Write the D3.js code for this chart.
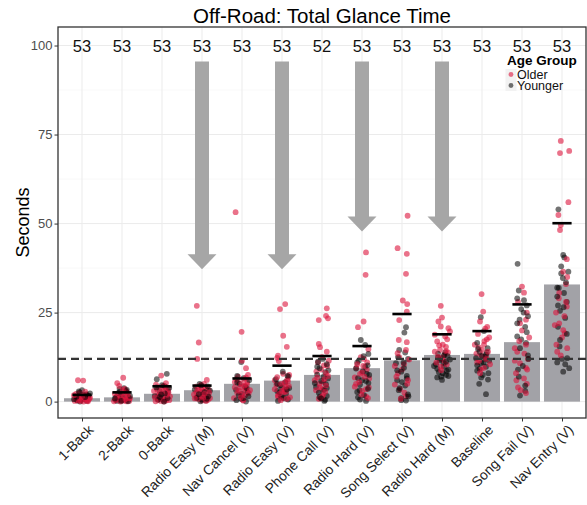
<!DOCTYPE html>
<html><head><meta charset="utf-8">
<script src="https://cdn.jsdelivr.net/npm/d3@7/dist/d3.min.js"></script>
<style>body{margin:0;background:#fff;}svg{font-family:"Liberation Sans",Arial,sans-serif;}</style>
</head><body>
<script>
const categories = ["1-Back","2-Back","0-Back","Radio Easy (M)","Nav Cancel (V)","Radio Easy (V)","Phone Call (V)","Radio Hard (V)","Song Select (V)","Radio Hard (M)","Baseline","Song Fail (V)","Nav Entry (V)"];
const medians = [0.95,1.2,2.2,3.2,5.0,5.9,7.5,9.4,11.6,13.1,13.4,16.7,32.9];
const means = [1.9,2.6,4.3,4.5,6.5,10.1,12.8,15.6,24.6,18.9,19.8,27.3,50.1];
const counts = ["53","53","53","53","53","53","52","53","53","53","53","53","53"];
const yTicks = [0,25,50,75,100];
const threshold = 12;
const arrowCats = ["Radio Easy (M)","Radio Easy (V)","Radio Hard (V)","Radio Hard (M)"];
const arrowTips = [37.2,37.2,47.8,47.8];
const arrowStart = 95.5;
const groups = ["Older","Younger"];
// points per category: [jitter offset (in category steps), seconds]
const olderPts = [
 [[-0.1,6.0],[0.03,5.9],[-0.15,2.2],[0.12,1.5],[-0.05,1.0],[0.1,0.5],[-0.18,0.2],[0.18,0.8],[0.05,1.2],[-0.08,0.3],[0.08,2.8],[0,0.6],[-0.2,1.8],[0.15,0.1],[-0.12,0.4],[0.2,1.1],
  [-0.03,0.2],[0.07,0.9],[-0.13,1.3],[0.14,0.3],[0.01,1.6],[-0.09,0.7],[0.11,2.0],[-0.17,1.0],[0.04,0.0],[-0.01,1.2],[0.16,1.4],[-0.06,2.4]],
 [[0.03,6.7],[-0.12,5.2],[-0.07,4.4],[0.1,3.0],[-0.18,2.2],[0.15,1.5],[-0.1,0.8],[0.05,0.3],[-0.2,0.1],[0.2,1.0],[0,0.5],[0.12,2.6],[-0.03,1.8],[0.18,0.2],[-0.15,0.6],[0.07,3.6],
  [0.0,0.3],[-0.08,1.2],[0.09,0.7],[-0.13,1.5],[0.14,2.0],[-0.04,0.0],[0.05,1.4],[-0.16,0.4],[0.11,0.1],[-0.01,2.2],[0.17,0.9],[0.02,3.2]],
 [[-0.02,7.3],[0.1,5.2],[-0.15,4.8],[0.05,4.5],[-0.08,4.0],[0.15,3.5],[-0.2,3.0],[0,2.6],[0.12,2.2],[-0.1,1.8],[0.08,1.2],[-0.05,0.8],[0.18,0.4],[-0.16,0.1],[0.2,1.5],[0.03,2.9],[0.1,0.3],
  [0.0,1.0],[-0.06,2.0],[0.06,0.5],[-0.12,3.3],[0.13,1.9],[-0.03,0.2],[0.09,3.8],[-0.18,1.2],[0.16,2.6],[0.02,4.2],[-0.1,0.6],[0.05,0.0]],
 [[-0.13,26.9],[-0.08,16.6],[-0.12,12.0],[0.12,6.1],[0.05,5.0],[-0.15,4.2],[0.1,3.6],[-0.05,3.0],[0.18,2.5],[-0.2,2.0],[0,1.6],[0.08,1.2],[-0.1,0.8],[0.15,0.5],[0.02,2.8],[-0.02,3.9],[0.2,1.0],
  [0.0,0.3],[-0.07,1.4],[0.06,2.2],[-0.14,2.6],[0.13,1.8],[-0.03,4.6],[0.1,0.2],[-0.18,0.9],[0.17,3.3],[0.03,1.1],[-0.1,3.4],[0.07,4.0]],
 [[-0.16,53.2],[-0.01,19.6],[0,11.5],[0.1,9.4],[0.15,7.5],[-0.1,7.0],[0.05,6.2],[-0.18,5.5],[0.12,4.8],[-0.05,4.0],[0.2,3.2],[-0.12,2.5],[0.08,1.8],[-0.2,1.0],[0.02,0.5],[0.1,3.6],[-0.02,5.0],
  [0.0,2.0],[-0.07,3.0],[0.06,4.5],[-0.14,6.3],[0.13,5.5],[-0.03,1.2],[0.1,6.8],[-0.18,4.0],[0.17,2.4],[0.03,0.3],[-0.1,5.7],[0.07,3.3]],
 [[0.08,27.4],[-0.05,26.0],[0.03,18.5],[0.12,15.4],[-0.1,12.9],[-0.12,12.3],[-0.08,11.4],[-0.12,6.9],[0.15,5.8],[-0.02,5.0],[0.1,4.2],[-0.18,3.5],[0.05,2.6],[-0.1,1.8],[0.2,1.2],[0,3.0],[0.12,0.8],[0.18,7.5],
  [0.0,1.0],[-0.07,2.2],[0.06,3.5],[-0.14,4.8],[0.13,6.2],[-0.03,0.4],[0.1,2.8],[-0.18,6.0],[0.17,4.4],[0.03,7.8],[-0.1,1.4],[0.07,5.3]],
 [[0.12,26.2],[0.1,24.1],[0.15,23.4],[-0.08,22.9],[-0.08,16.2],[-0.05,15.3],[0.12,14.0],[0,12.5],[-0.1,11.0],[0.05,10.2],[-0.02,9.0],[0.1,8.0],[-0.12,6.8],[0.03,5.5],[-0.05,4.0],[0.08,2.8],[0,1.5],[-0.08,0.8],[0.15,7.2],[-0.15,3.2],
  [0.0,3.5],[-0.07,5.0],[0.06,6.3],[-0.14,8.5],[0.13,10.0],[-0.03,1.0],[0.1,4.5],[-0.18,6.0],[0.17,11.5],[0.03,2.0]],
 [[0.1,41.9],[0.09,35.6],[0.04,22.5],[-0.1,20.9],[0.16,14.7],[0.05,12.0],[-0.12,10.5],[0.12,9.0],[-0.05,7.8],[0.18,6.5],[-0.15,5.0],[0.1,3.5],[-0.02,2.0],[0.15,1.0],[0,8.2],[-0.18,4.2],
  [0.0,3.0],[-0.07,5.5],[0.06,7.0],[-0.14,9.5],[0.13,11.0],[-0.03,12.5],[0.1,1.5],[-0.18,6.8],[0.17,4.0],[0.03,10.0]],
 [[0.14,52.2],[-0.11,43.1],[0.12,41.5],[0.1,35.9],[0.02,28.4],[0.13,27.4],[0.12,25.3],[-0.07,22.9],[-0.08,17.3],[0.12,16.7],[-0.11,13.6],[0.05,10.5],[-0.1,8.0],[0.15,6.0],[-0.05,3.5],[0.1,1.5],[0.18,11.8],[-0.18,4.8],
  [0.0,9.0],[-0.07,12.5],[0.06,2.5],[-0.14,7.0],[0.13,5.0],[-0.03,0.8],[0.1,14.5],[-0.18,10.0]],
 [[-0.03,26.9],[0,23.6],[-0.09,22.5],[-0.03,21.1],[0.16,20.6],[0.2,19.7],[0.08,18.3],[-0.12,16.9],[0.1,15.4],[-0.05,14.5],[0.15,13.8],[-0.1,12.6],[0.05,11.5],[0.12,10.4],[-0.02,8.8],[-0.18,14.0],[0.02,16.0],
  [0.0,12.2],[-0.07,15.8],[0.06,13.2],[-0.14,11.0],[0.13,17.5],[-0.03,9.8],[0.1,14.2],[-0.18,18.8]],
 [[-0.01,30.2],[0.03,25.3],[-0.05,22.5],[0.08,20.5],[-0.1,19.0],[0.12,17.5],[0.05,16.0],[-0.08,15.2],[0.15,14.0],[-0.02,13.0],[0.1,12.0],[-0.12,11.0],[0.05,9.5],[-0.05,8.0],[0.18,18.0],[0.2,10.5],
  [0.0,14.5],[-0.07,11.5],[0.06,17.0],[-0.14,13.5],[0.13,21.0],[-0.03,9.0],[0.1,12.6],[-0.18,16.0]],
 [[0,32.3],[0.05,30.6],[-0.1,28.0],[0.12,25.0],[-0.05,22.0],[0.1,16.0],[-0.12,14.0],[0.15,12.0],[-0.05,10.8],[0.1,9.5],[-0.15,8.0],[0.05,6.5],[0.12,5.0],[-0.1,4.0],[0.1,2.4],[0.18,18.0],[-0.18,11.5],
  [0.0,20.0],[-0.07,17.0],[0.06,13.5],[-0.14,6.0],[0.13,9.0],[-0.03,3.2],[0.1,23.0],[-0.18,15.0]],
 [[-0.03,73.2],[-0.05,69.8],[0.18,70.4],[0.16,56.0],[-0.09,52.4],[-0.03,49.6],[-0.05,48.2],[0.03,36.5],[0.1,33.0],[-0.08,29.0],[0.12,26.7],[-0.07,22.0],[0.03,20.1],[0.07,19.2],[0.13,15.0],[-0.12,14.0],[-0.15,25.0],[0.12,40.0],
  [0.0,18.0],[-0.07,30.5],[0.06,24.0],[-0.14,16.0],[0.13,35.0],[-0.03,13.0],[0.1,28.0],[-0.18,21.5]]
];
const youngerPts = [
 [[0,3.2],[-0.06,2.6],[0.1,2.0],[-0.14,1.4],[0.06,0.9],[-0.02,0.5],[0.12,0.2],[0.16,1.7],[-0.2,0.7],[-0.05,0.0],[0.2,2.3],[-0.1,1.0],
  [0.08,1.3],[-0.12,0.3],[0.03,1.9],[-0.08,2.9]],
 [[0.05,3.8],[0.12,3.3],[-0.05,2.8],[0.08,2.0],[-0.15,1.2],[0.1,0.6],[-0.02,0.2],[0.2,1.6],[-0.18,0.9],[0.15,0.1],[-0.1,2.4],
  [-0.06,3.6],[0.1,2.9],[0.0,1.3],[-0.12,0.2]],
 [[0.12,7.8],[-0.13,6.3],[0,4.6],[0.18,3.8],[-0.06,3.0],[0.07,2.3],[-0.18,1.6],[0.14,1.0],[-0.1,0.5],[0.05,0.0],[-0.02,2.0],
  [0.08,4.2],[-0.05,1.3],[0.15,2.8],[-0.14,4.0]],
 [[-0.06,5.0],[0.14,4.3],[-0.18,3.4],[0.06,2.7],[-0.08,2.1],[0.16,1.5],[-0.14,1.0],[0,0.6],[0.1,0.3],[-0.04,0.1],[0.2,3.1],
  [0.04,2.0],[-0.12,1.2],[0.12,0.8],[-0.02,4.6]],
 [[-0.02,11.1],[-0.12,7.2],[0.18,6.0],[-0.06,5.0],[0.08,4.2],[-0.15,3.3],[0.14,2.6],[-0.08,1.8],[0.04,1.0],[-0.14,0.4],[0.1,0.0],[0,2.2],
  [0.04,6.6],[-0.12,5.4],[0.12,3.8],[-0.02,0.8],[0.16,1.5]],
 [[0.02,8.4],[0.14,7.2],[-0.15,6.3],[0.08,5.5],[-0.05,4.6],[0.18,3.8],[-0.12,3.0],[0.1,2.2],[-0.02,1.5],[0.15,0.6],[-0.1,0.2],[0,4.0],
  [0.04,1.0],[-0.12,5.0],[0.12,3.4],[-0.06,2.6],[0.16,7.0]],
 [[0.02,12.0],[0.12,10.5],[-0.06,9.4],[0.08,8.3],[-0.12,7.6],[0.15,6.5],[-0.02,5.8],[0.1,4.9],[-0.15,4.1],[0.05,3.3],[-0.08,2.5],[0.12,1.6],[-0.02,0.9],[0.06,0.2],[-0.18,5.2],
  [0.04,7.0],[-0.12,9.8],[0.12,3.8],[-0.06,1.3],[0.16,8.8],[-0.1,11.2],[0.08,0.5]],
 [[-0.03,17.3],[0.08,15.9],[0.16,13.4],[-0.08,11.5],[0.14,10.2],[-0.15,9.3],[0.02,8.5],[0.18,7.5],[-0.1,6.6],[0.1,5.8],[-0.05,4.8],[0.15,3.6],[-0.12,2.7],[0.05,1.8],[-0.05,0.6],[0.1,0.2],[0,6.0],
  [0.04,12.8],[-0.12,11.0],[0.12,7.8],[-0.06,3.2],[0.16,5.2],[-0.1,1.2],[0.08,9.8]],
 [[0.1,20.9],[0.06,19.4],[-0.07,14.5],[0.15,12.0],[-0.15,10.8],[0.05,9.5],[-0.02,8.4],[0.12,7.2],[-0.12,6.0],[0.08,4.5],[-0.08,3.2],[0.15,2.0],[-0.02,1.0],[0.1,0.3],[0,5.5],
  [0.04,11.0],[-0.12,8.8],[0.12,6.5],[-0.06,3.8],[0.16,1.5],[-0.1,12.5],[0.08,13.8],[-0.02,0.4]],
 [[-0.1,13.5],[0.14,12.8],[-0.05,12.0],[0.1,11.2],[-0.15,10.5],[0.05,9.8],[0.16,9.0],[-0.08,8.3],[0.1,7.5],[-0.12,6.8],[0,6.1],[0.05,13.0],[-0.2,10.0],[0.2,11.8],[0.02,8.0],
  [0.04,10.8],[-0.12,9.2],[0.12,8.6],[-0.06,11.6],[0.16,7.2],[-0.1,12.4],[0.08,13.8],[-0.02,7.0]],
 [[-0.03,23.7],[0.05,19.8],[-0.12,16.5],[0.14,15.0],[-0.06,14.0],[0.1,13.2],[-0.15,12.2],[0.18,11.5],[-0.02,10.8],[0.1,9.8],[-0.12,8.7],[0.02,7.5],[0.15,6.2],[-0.07,5.0],[0.1,2.1],[0,12.8],
  [0.04,11.0],[-0.12,10.2],[0.12,13.8],[-0.06,9.2],[0.16,8.0],[-0.1,14.8],[0.08,12.0],[-0.02,6.8]],
 [[-0.11,38.7],[-0.08,31.2],[0.05,28.5],[0.12,27.0],[-0.02,26.0],[0.15,24.0],[-0.12,22.0],[0.08,21.0],[-0.12,18.3],[0.1,16.5],[-0.05,15.0],[0.15,13.0],[0.02,10.0],[-0.08,7.0],[0.08,4.5],[-0.05,1.7],
  [0.04,25.0],[-0.12,29.0],[0.12,19.5],[-0.06,23.0],[0.16,12.0],[-0.1,9.0],[0.08,3.0],[-0.02,17.5]],
 [[-0.09,54.0],[0.03,41.2],[0.06,40.5],[-0.02,36.0],[0.02,34.7],[0.1,33.5],[-0.08,31.9],[0.05,30.5],[-0.12,29.5],[0.12,28.0],[-0.05,25.5],[0.08,23.5],[-0.1,21.0],[-0.05,17.3],[0.13,12.2],[0,12.0],[0.18,9.4],[0.03,8.4],[-0.12,11.0],
  [0.04,26.5],[-0.12,32.0],[0.12,19.0],[-0.06,15.5],[0.16,36.5],[-0.1,27.0],[0.08,10.5],[-0.02,38.0]]
];

const W = 587, H = 505;
const L = 58, R = 586, T = 27, B = 418;
const svg = d3.select("body").append("svg").attr("width", W).attr("height", H);

const x = d3.scalePoint().domain(categories).range([L, R]).padding(0.6);
const step = x.step();
const y = d3.scaleLinear().domain([-4.6, 105.2]).range([B, T]);

// grid
const g = svg.append("g");
const minor = [12.5,37.5,62.5,87.5];
g.selectAll(".mn").data(minor).enter().append("line")
  .attr("x1", L).attr("x2", R).attr("y1", d=>y(d)).attr("y2", d=>y(d))
  .attr("stroke", "#f4f4f4").attr("stroke-width", 0.6);
g.selectAll(".mj").data(yTicks).enter().append("line")
  .attr("x1", L).attr("x2", R).attr("y1", d=>y(d)).attr("y2", d=>y(d))
  .attr("stroke", "#ebebeb").attr("stroke-width", 1);
g.selectAll(".vx").data(categories).enter().append("line")
  .attr("x1", d=>x(d)).attr("x2", d=>x(d)).attr("y1", T).attr("y2", B)
  .attr("stroke", "#ebebeb").attr("stroke-width", 1);

// bars
const bw = step*0.9;
svg.selectAll(".bar").data(categories).enter().append("rect")
  .attr("x", d=>x(d)-bw/2).attr("width", bw)
  .attr("y", (d,i)=>y(medians[i])).attr("height", (d,i)=>y(0)-y(medians[i]))
  .attr("fill", "#a2a2a7");

// arrows
const sw = 14, hw = 29, hl = 15;
svg.selectAll(".arr").data(arrowCats).enter().append("path")
  .attr("d", (d,i)=>{
    const cx = x(d), y0 = y(arrowStart), yt = y(arrowTips[i]), yb = yt - hl;
    return `M${cx-sw/2},${y0}L${cx+sw/2},${y0}L${cx+sw/2},${yb}L${cx+hw/2},${yb}L${cx},${yt}L${cx-hw/2},${yb}L${cx-sw/2},${yb}Z`;
  }).attr("fill", "#a6a6a6");

// points
const col = {Older:"#dc143c", Younger:"#000000"};
const op = {Older:0.6, Younger:0.55};
const pts = [];
categories.forEach((c,i)=>{
  olderPts[i].forEach(p=>pts.push({c, dx:p[0], v:p[1], g:"Older"}));
  youngerPts[i].forEach(p=>pts.push({c, dx:p[0], v:p[1], g:"Younger"}));
});
pts.sort((a,b)=>((a.v*7.3+a.dx*31+100)%1)-((b.v*7.3+b.dx*31+100)%1));
svg.selectAll(".pt").data(pts).enter().append("circle")
  .attr("cx", d=>x(d.c)+d.dx*step).attr("cy", d=>y(d.v)).attr("r", 2.9)
  .attr("fill", d=>col[d.g]).attr("fill-opacity", d=>op[d.g]);

// mean lines
const mw = step*0.48;
svg.selectAll(".mean").data(categories).enter().append("line")
  .attr("x1", d=>x(d)-mw/2).attr("x2", d=>x(d)+mw/2)
  .attr("y1", (d,i)=>y(means[i])).attr("y2", (d,i)=>y(means[i]))
  .attr("stroke", "#000").attr("stroke-width", 2.6);

// threshold
svg.append("line").attr("x1", L).attr("x2", R).attr("y1", y(threshold)).attr("y2", y(threshold))
  .attr("stroke", "#333").attr("stroke-width", 2.4).attr("stroke-dasharray", "8,5");

// counts
svg.selectAll(".cnt").data(categories).enter().append("text")
  .attr("x", d=>x(d)).attr("y", y(100)+6).attr("text-anchor", "middle")
  .attr("font-size", 16.5).attr("fill", "#111").text((d,i)=>counts[i]);

// panel border
svg.append("rect").attr("x", L).attr("y", T).attr("width", R-L).attr("height", B-T)
  .attr("fill", "none").attr("stroke", "#333").attr("stroke-width", 1.3);

// y axis
const ya = svg.append("g").attr("transform", `translate(${L},0)`)
  .call(d3.axisLeft(y).tickValues(yTicks).tickSize(3.5).tickPadding(2));
ya.select(".domain").remove();
ya.selectAll("line").attr("stroke", "#333");
ya.selectAll("text").attr("font-size", 13).attr("fill", "#4d4d4d").attr("font-family", "Liberation Sans, Arial, sans-serif");

// x axis
const xa = svg.append("g").attr("transform", `translate(0,${B})`)
  .call(d3.axisBottom(x).tickSize(3.5).tickPadding(2));
xa.select(".domain").remove();
xa.selectAll("line").attr("stroke", "#333");
xa.selectAll("text").attr("font-size", 13.8).attr("fill", "#222")
  .attr("font-family", "Liberation Sans, Arial, sans-serif")
  .attr("text-anchor", "end").attr("dy", null).attr("y", 0)
  .attr("transform", "translate(5,6) rotate(-45)")
  .attr("dominant-baseline", "hanging");

// titles
svg.append("text").attr("x", (L+R)/2).attr("y", 23).attr("text-anchor", "middle")
  .attr("font-size", 20.5).attr("fill", "#000").text("Off-Road: Total Glance Time");
svg.append("text").attr("transform", `translate(29,${(T+B)/2}) rotate(-90)`)
  .attr("text-anchor", "middle").attr("font-size", 18).attr("fill", "#000").text("Seconds");

// legend
const lg = svg.append("g");
lg.append("text").attr("x", 507).attr("y", 65).attr("font-size", 13.5).attr("font-weight", "bold").text("Age Group");
groups.forEach((gr,i)=>{
  const cy = 74.5 + i*11;
  lg.append("rect").attr("x", 505.5).attr("y", cy-5.5).attr("width", 11).attr("height", 11).attr("fill", "#f2f2f2");
  lg.append("circle").attr("cx", 511).attr("cy", cy).attr("r", 2.4).attr("fill", col[gr]).attr("fill-opacity", op[gr]);
  lg.append("text").attr("x", 517).attr("y", cy+4.3).attr("font-size", 12.5).attr("fill", "#111").text(gr);
});
</script>
</body></html>
